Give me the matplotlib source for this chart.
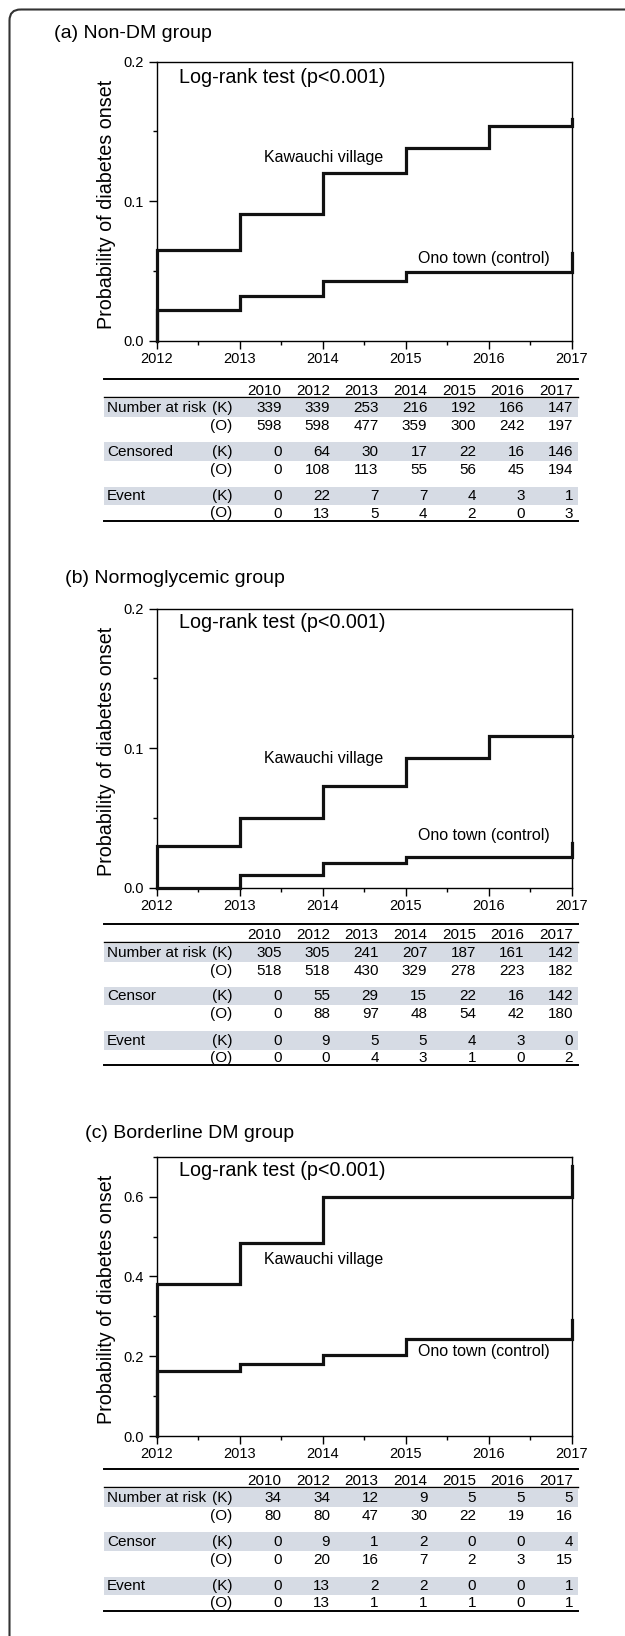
import matplotlib
matplotlib.use('Agg')
import matplotlib.pyplot as plt
from matplotlib import font_manager
from matplotlib.patches import Rectangle, FancyBboxPatch
from matplotlib.ticker import MultipleLocator, FormatStrFormatter

plt.rcParams['font.family'] = ['Liberation Sans', 'DejaVu Sans']
names = {f.name for f in font_manager.fontManager.ttflist}
tick_font = 'Liberation Sans Narrow' if 'Liberation Sans Narrow' in names else 'Liberation Sans'

# curve data (cumulative probability of diabetes onset, per year step)
years = [2012, 2013, 2014, 2015, 2016, 2017]

kaw_a = [0.065, 0.091, 0.120, 0.138, 0.154, 0.159]
ono_a = [0.022, 0.032, 0.043, 0.049, 0.049, 0.063]
kaw_b = [0.030, 0.050, 0.073, 0.093, 0.109, 0.109]
ono_b = [0.000, 0.009, 0.018, 0.022, 0.022, 0.032]
kaw_c = [0.382, 0.484, 0.598, 0.598, 0.598, 0.677]
ono_c = [0.163, 0.180, 0.204, 0.243, 0.243, 0.290]

# tables
table_years = [2010, 2012, 2013, 2014, 2015, 2016, 2017]

risk_k_a = [339, 339, 253, 216, 192, 166, 147]
risk_o_a = [598, 598, 477, 359, 300, 242, 197]
cens_k_a = [0, 64, 30, 17, 22, 16, 146]
cens_o_a = [0, 108, 113, 55, 56, 45, 194]
event_k_a = [0, 22, 7, 7, 4, 3, 1]
event_o_a = [0, 13, 5, 4, 2, 0, 3]

risk_k_b = [305, 305, 241, 207, 187, 161, 142]
risk_o_b = [518, 518, 430, 329, 278, 223, 182]
cens_k_b = [0, 55, 29, 15, 22, 16, 142]
cens_o_b = [0, 88, 97, 48, 54, 42, 180]
event_k_b = [0, 9, 5, 5, 4, 3, 0]
event_o_b = [0, 0, 4, 3, 1, 0, 2]

risk_k_c = [34, 34, 12, 9, 5, 5, 5]
risk_o_c = [80, 80, 47, 30, 22, 19, 16]
cens_k_c = [0, 9, 1, 2, 0, 0, 4]
cens_o_c = [0, 20, 16, 7, 2, 3, 15]
event_k_c = [0, 13, 2, 2, 0, 0, 1]
event_o_c = [0, 13, 1, 1, 1, 0, 1]

W, H = 625, 1636
fig = plt.figure(figsize=(W / 100, H / 100), dpi=100)

# overlay in pixel units for frame, titles and tables
ov = fig.add_axes([0, 0, 1, 1])
ov.set_xlim(0, W)
ov.set_ylim(H, 0)
ov.axis('off')

ov.add_patch(FancyBboxPatch((9.5, 9.5), 800, 1800,
                            boxstyle='round,pad=0,rounding_size=11',
                            fill=False, ec='#333333', lw=1.5))


def step_xy(vals):
    xs = [years[0]] + years[:-1] + [years[-1], years[-1]]
    ys = [0] + vals[:-1] + [vals[-2], vals[-1]]
    return xs, ys


def km_panel(top_px, bottom_px, kaw, ono, ymax, major, minor, txt_y):
    ax = fig.add_axes([156.6 / W, 1 - bottom_px / H, 415 / W, (bottom_px - top_px) / H])
    for vals in (kaw, ono):
        xs, ys = step_xy(vals)
        ax.plot(xs, ys, drawstyle='steps-post', color='#111111', lw=2.3,
                solid_joinstyle='miter', clip_on=False, zorder=3)
    ax.set_xlim(2012, 2017)
    ax.set_ylim(0, ymax)
    ax.xaxis.set_major_locator(MultipleLocator(1))
    ax.xaxis.set_minor_locator(MultipleLocator(0.5))
    ax.yaxis.set_major_locator(MultipleLocator(major))
    ax.yaxis.set_minor_locator(MultipleLocator(minor))
    ax.yaxis.set_major_formatter(FormatStrFormatter('%.1f'))
    ax.tick_params(which='major', direction='out', length=5.5, width=1, pad=2.5)
    ax.tick_params(which='minor', direction='out', length=3, width=1)
    ax.tick_params(axis='y', pad=3.5)
    for lab in ax.get_xticklabels() + ax.get_yticklabels():
        lab.set_fontfamily(tick_font)
        lab.set_fontsize(11.5 if tick_font != 'Liberation Sans' else 10.5)
    for s in ax.spines.values():
        s.set_linewidth(1.0)
    ax.set_ylabel('Probability of diabetes onset', fontsize=14.2)
    ax.yaxis.set_label_coords(-0.098, 0.49)
    ax.text(2012.27, txt_y[0], 'Log-rank test (p<0.001)', fontsize=14.2, ha='left', va='center')
    ax.text(2014.01, txt_y[1], 'Kawauchi village', fontsize=11.5, ha='center', va='center')
    ax.text(2015.94, txt_y[2], 'Ono town (control)', fontsize=11.5, ha='center', va='center')
    return ax


km_panel(61.7, 340.7, kaw_a, ono_a, 0.2, 0.1, 0.05, (0.189, 0.131, 0.0587))
km_panel(608.7, 887.7, kaw_b, ono_b, 0.2, 0.1, 0.05, (0.190, 0.0926, 0.0376))
km_panel(1156.7, 1436.0, kaw_c, ono_c, 0.7, 0.2, 0.1, (0.665, 0.4425, 0.211))

ov.text(54, 33, '(a) Non-DM group', fontsize=14, ha='left', va='center')
ov.text(65, 578.5, '(b) Normoglycemic group', fontsize=14, ha='left', va='center')
ov.text(85, 1134, '(c) Borderline DM group', fontsize=14, ha='left', va='center')

band_col = '#d6dbe4'
x0, x1 = 103.6, 577.8
col_right = [281.5 + 48.6 * i for i in range(len(table_years))]


def draw_table(top, cens_name, groups):
    ov.plot([x0, x1], [top, top], color='black', lw=1.4)
    ov.plot([x0, x1], [top + 17.7, top + 17.7], color='black', lw=1.0)
    ov.plot([x0, x1], [top + 141.2, top + 141.2], color='black', lw=1.4)
    for c, yr in zip(col_right, table_years):
        ov.text(c, top + 11.4, str(yr), fontsize=11, ha='right', va='center')
    k_rows = [top + 28.7, top + 72.3, top + 116.6]
    o_off = [18.0, 18.0, 17.6]
    row_names = ['Number at risk', cens_name, 'Event']
    for yk, dy, name, (kv, ov_vals) in zip(k_rows, o_off, row_names, groups):
        ov.add_patch(Rectangle((x0, yk - 9.2), x1 - x0, 18.4, color=band_col, lw=0, zorder=0))
        ov.text(107, yk, name, fontsize=11, ha='left', va='center')
        ov.text(232.5, yk, '(K)', fontsize=11, ha='right', va='center')
        ov.text(232.5, yk + dy, '(O)', fontsize=11, ha='right', va='center')
        for c, v in zip(col_right, kv):
            ov.text(c, yk, str(v), fontsize=11, ha='right', va='center')
        for c, v in zip(col_right, ov_vals):
            ov.text(c, yk + dy, str(v), fontsize=11, ha='right', va='center')


draw_table(379.3, 'Censored', [(risk_k_a, risk_o_a), (cens_k_a, cens_o_a), (event_k_a, event_o_a)])
draw_table(924.0, 'Censor', [(risk_k_b, risk_o_b), (cens_k_b, cens_o_b), (event_k_b, event_o_b)])
draw_table(1469.3, 'Censor', [(risk_k_c, risk_o_c), (cens_k_c, cens_o_c), (event_k_c, event_o_c)])

fig.savefig('out.png', dpi=100)
